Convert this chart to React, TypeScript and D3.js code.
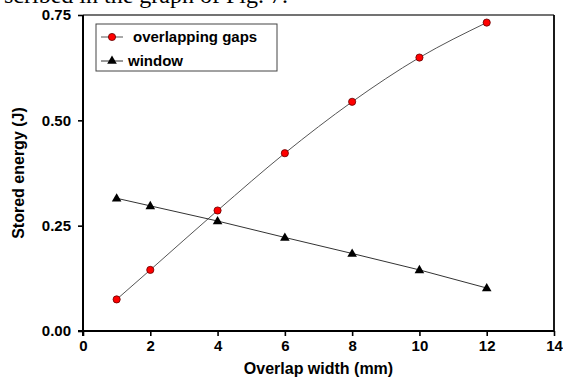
import React from "react";
import * as d3 from "d3";

const widths = [1, 2, 4, 6, 8, 10, 12];
const overlappingGaps = [0.075, 0.145, 0.286, 0.422, 0.544, 0.649, 0.732];
const windowSeries = [0.315, 0.297, 0.261, 0.222, 0.184, 0.145, 0.102];
const xTicks = [0, 2, 4, 6, 8, 10, 12, 14];
const yTicks = [0, 0.25, 0.5, 0.75];
const legendLabels = ["overlapping gaps", "window"];

export default function App() {
  const width = 563;
  const height = 378;
  const left = 83;
  const right = 554;
  const top = 15;
  const bottom = 331;
  const font = "'Liberation Sans', Arial, sans-serif";

  const svgRef = React.useRef<SVGSVGElement>(null);

  const x = d3.scaleLinear().domain([0, 14]).range([left, right]);
  const y = d3.scaleLinear().domain([0, 0.75]).range([bottom, top]);

  React.useEffect(() => {
    const svg = d3.select(svgRef.current);

    const xAxis = d3
      .axisBottom(x)
      .tickValues(xTicks)
      .tickSize(5)
      .tickPadding(4)
      .tickFormat(d3.format("d"));
    svg
      .select<SVGGElement>(".x-axis")
      .attr("transform", `translate(0,${bottom})`)
      .call(xAxis)
      .call((g) => g.select(".domain").remove())
      .call((g) => g.selectAll("line").attr("stroke", "#000").attr("stroke-width", 1.6))
      .selectAll("text")
      .style("font-family", font)
      .style("font-size", "15px")
      .style("font-weight", "bold")
      .attr("fill", "#000");

    const yAxis = d3
      .axisLeft(y)
      .tickValues(yTicks)
      .tickSize(5)
      .tickPadding(7)
      .tickFormat(d3.format(".2f"));
    svg
      .select<SVGGElement>(".y-axis")
      .attr("transform", `translate(${left},0)`)
      .call(yAxis)
      .call((g) => g.select(".domain").remove())
      .call((g) => g.selectAll("line").attr("stroke", "#000").attr("stroke-width", 1.6))
      .selectAll("text")
      .style("font-family", font)
      .style("font-size", "15px")
      .style("font-weight", "bold")
      .attr("fill", "#000");
  }, []);

  const smooth = d3
    .line<number>()
    .x((_, i) => x(widths[i]))
    .y((d) => y(d))
    .curve(d3.curveMonotoneX);
  const straight = d3
    .line<number>()
    .x((_, i) => x(widths[i]))
    .y((d) => y(d));

  const tri = d3.symbol(d3.symbolTriangle, 40)();

  return (
    <svg
      ref={svgRef}
      width={width}
      height={height}
      style={{ position: "absolute", left: 0, top: 0, background: "#fff" }}
    >
      <text
        x={4}
        y={3}
        fontFamily="'Liberation Serif', 'Times New Roman', serif"
        fontSize={24}
        fill="#000"
      >
        scribed in the graph of Fig. 7.
      </text>

      {/* frame */}
      <line x1={left} x2={right} y1={top} y2={top} stroke="#444" strokeWidth={1.6} />
      <line x1={right} x2={right} y1={top} y2={bottom} stroke="#000" strokeWidth={1.8} />
      <line x1={left} x2={left} y1={top} y2={bottom + 5} stroke="#000" strokeWidth={2} />
      <line x1={left - 5} x2={right} y1={bottom} y2={bottom} stroke="#000" strokeWidth={2} />

      <g className="x-axis" />
      <g className="y-axis" />

      <path d={smooth(overlappingGaps) ?? ""} fill="none" stroke="#555" strokeWidth={1} />
      <path d={straight(windowSeries) ?? ""} fill="none" stroke="#333" strokeWidth={1} />

      {overlappingGaps.map((v, i) => (
        <circle
          key={"c" + i}
          cx={x(widths[i])}
          cy={y(v)}
          r={3.6}
          fill="#ff0000"
          stroke="#600"
          strokeWidth={0.8}
        />
      ))}
      {windowSeries.map((v, i) => (
        <path
          key={"t" + i}
          d={tri ?? ""}
          transform={`translate(${x(widths[i])},${y(v) + 0.5})`}
          fill="#000"
        />
      ))}

      {/* legend */}
      <rect x={96} y={24} width={181} height={47} fill="#fff" stroke="#444" strokeWidth={1} />
      <line x1={101} x2={123} y1={37} y2={37} stroke="#555" strokeWidth={1} />
      <circle cx={112} cy={37} r={3.6} fill="#ff0000" stroke="#600" strokeWidth={0.8} />
      <text x={133} y={42} fontFamily={font} fontSize={15} fontWeight="bold" fill="#000">
        {legendLabels[0]}
      </text>
      <line x1={101} x2={123} y1={61} y2={61} stroke="#333" strokeWidth={1} />
      <path d={tri ?? ""} transform="translate(112,61)" fill="#000" />
      <text x={128} y={66} fontFamily={font} fontSize={15} fontWeight="bold" fill="#000">
        {legendLabels[1]}
      </text>

      <text
        x={(left + right) / 2}
        y={374}
        textAnchor="middle"
        fontFamily={font}
        fontSize={16}
        fontWeight="bold"
        fill="#000"
      >
        Overlap width (mm)
      </text>
      <text
        transform={`translate(24,${(top + bottom) / 2}) rotate(-90)`}
        textAnchor="middle"
        fontFamily={font}
        fontSize={16}
        fontWeight="bold"
        fill="#000"
      >
        Stored energy (J)
      </text>
    </svg>
  );
}
